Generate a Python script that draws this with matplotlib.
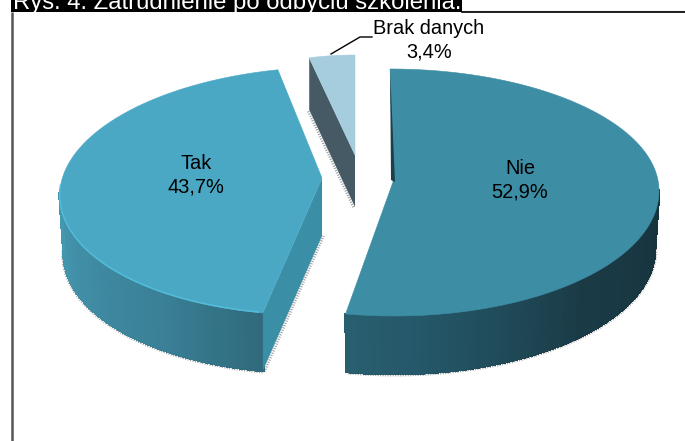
import numpy as np
import matplotlib
matplotlib.use("Agg")
import matplotlib.pyplot as plt
from matplotlib.colors import to_rgb

# Survey result: employment after completing the training
categories = ["Nie", "Tak", "Brak danych"]
shares = [52.9, 43.7, 3.4]
value_labels = ["52,9%", "43,7%", "3,4%"]
title = "Rys. 4. Zatrudnienie po odbyciu szkolenia."

plt.rcParams["font.family"] = ["Liberation Sans", "DejaVu Sans"]

W, H = 685, 441
fig = plt.figure(figsize=(W / 100, H / 100), dpi=100)
ax = fig.add_axes([0, 0, 1, 1])
ax.set_xlim(0, W)
ax.set_ylim(H, 0)
ax.axis("off")

DEPTH = 58
BOTTOM_SCALE = 0.985  # the lower rim is slightly narrower than the top one

# Per-slice geometry of the exploded, tilted pie (pixel space)
geom = {
    "Nie": dict(cx=392, cy=190, rx=267, rb=121, rf=126, shear=0.016, apex=(393, 182)),
    "Tak": dict(cx=322, cy=190, rx=262, rb=123, rf=125, shear=-0.095, apex=(322, 178)),
    "Brak danych": dict(cx=355, cy=178, rx=216, rb=123, rf=123, shear=0.0, apex=(355, 155)),
}
top_colors = {"Nie": "#3d8da5", "Tak": "#4aa8c4", "Brak danych": "#a6cddd"}
# Outer wall colour stops, running clockwise over the visible part of each slice
wall_stops = {
    "Nie": [(90, "#16333d"), (135, "#1a3b46"), (175, "#25586a"), (190.4, "#285f6f")],
    "Tak": [(190.4, "#30697b"), (215, "#3a8096"), (250, "#4190a8"), (270, "#4498b0")],
}


def rim(g, t, scale=1.0):
    """Point on a slice rim for clockwise angle t (degrees from 12 o'clock)."""
    t = np.radians(t)
    c = np.cos(t)
    r = np.where(c >= 0, g["rb"], g["rf"])
    y = g["cy"] - r * c
    x = g["cx"] + scale * g["rx"] * np.sin(t) + g["shear"] * (y - g["cy"])
    return x, y


def wall_color(stops, t):
    ts = [s[0] for s in stops]
    rgb = np.array([to_rgb(s[1]) for s in stops])
    return [np.interp(t, ts, rgb[:, i]) for i in range(3)]


# Slice angles follow from the shares, starting at 12 o'clock
spans = {}
start = 0.0
for name, share in zip(categories, shares):
    spans[name] = (start, start + share * 3.6)
    start += share * 3.6

SHADOW = dict(color="#777777", alpha=0.75, lw=1.8, ls=(0, (0.4, 0.6)), zorder=1)

# Outer walls of the two large slices
for name in ["Tak", "Nie"]:
    g = geom[name]
    a0, a1 = spans[name]
    lo, hi = (a0, min(a1, 270)) if name == "Tak" else (max(a0, 90), a1)
    ts = np.linspace(lo, hi, 140)
    xs, ys = rim(g, ts)
    bx, _ = rim(g, ts, BOTTOM_SCALE)
    # Grainy contact shadow below the wall
    ax.plot(bx + (-1.0 if name == "Tak" else 1.0), ys + DEPTH + 1.2, **SHADOW)
    for i in range(len(ts) - 1):
        poly = ax.fill([xs[i], xs[i + 1], bx[i + 1], bx[i]],
                       [ys[i], ys[i + 1], ys[i + 1] + DEPTH, ys[i] + DEPTH],
                       color=wall_color(wall_stops[name], ts[i]), lw=1.2, zorder=2)
        poly[0].set_antialiased(False)

# Cut wall of Tak, facing the gap
g = geom["Tak"]
ax_t = spans["Tak"][0]
px, py = rim(g, ax_t)
ax.plot([px + 1.5, g["apex"][0] + 1.5], [py + DEPTH + 1, g["apex"][1] + DEPTH], **SHADOW)
ax.fill([px, g["apex"][0], g["apex"][0], px],
        [py, g["apex"][1], g["apex"][1] + DEPTH, py + DEPTH],
        color="#3a8ea6", lw=0, zorder=3)

# Cut wall of Brak danych
g = geom["Brak danych"]
px, py = rim(g, spans["Brak danych"][0])
ax.plot([px - 1, g["apex"][0] - 1], [py + 52 + 1.5, g["apex"][1] + 52 + 1.5], **SHADOW)
ax.fill([px, g["apex"][0], g["apex"][0], px],
        [py, g["apex"][1], g["apex"][1] + 52, py + 52],
        color="#455a64", lw=0, zorder=3)

# Thin inner edge of Nie, visible beside the gap
g = geom["Nie"]
tx, ty = rim(g, 0)
ax.fill([tx, g["apex"][0] + 2, g["apex"][0] - 2], [ty, g["apex"][1], g["apex"][1] - 2],
        color="#1d3f4a", lw=0, zorder=5)

# Top faces
for name in categories:
    g = geom[name]
    a0, a1 = spans[name]
    ts = np.linspace(a0, a1, 160)
    xs, ys = rim(g, ts)
    ax.fill(np.r_[g["apex"][0], xs], np.r_[g["apex"][1], ys],
            color=top_colors[name], lw=0.4, zorder=4)

# Bright bevel along the front rim of Tak
g = geom["Tak"]
ts = np.linspace(spans["Tak"][0] + 1, 272, 80)
xs, ys = rim(g, ts)
ax.plot(xs, ys - 0.5, color="#52bcd8", lw=1.1, zorder=6)

# Value labels
label_style = dict(ha="center", va="center", fontsize=14.4, color="black",
                   linespacing=1.3, zorder=7)
ax.text(520, 180, f"{categories[0]}\n{value_labels[0]}", **label_style)
ax.text(196, 175, f"{categories[1]}\n{value_labels[1]}", **label_style)
ax.text(429, 40, f"{categories[2]}\n{value_labels[2]}", **label_style)
ax.plot([331, 360, 372], [54, 37, 37], color="black", lw=1, zorder=7)

# Frame and highlighted heading
ax.plot([12, 12], [12, H], color="#555555", lw=1.8, zorder=8, solid_capstyle="butt")
ax.plot([462, W], [10.5, 10.5], color="#b0b0b0", lw=0.8, zorder=8)
ax.plot([462, W], [11.5, 11.5], color="black", lw=1.2, zorder=8)
ax.fill([11, 462, 462, 11], [0, 0, 12, 12], color="black", lw=0, zorder=8)
ax.text(13, 9, title, ha="left", va="baseline", fontsize=17.2, color="white", zorder=9)

fig.savefig("out.png", dpi=100, facecolor="white")
